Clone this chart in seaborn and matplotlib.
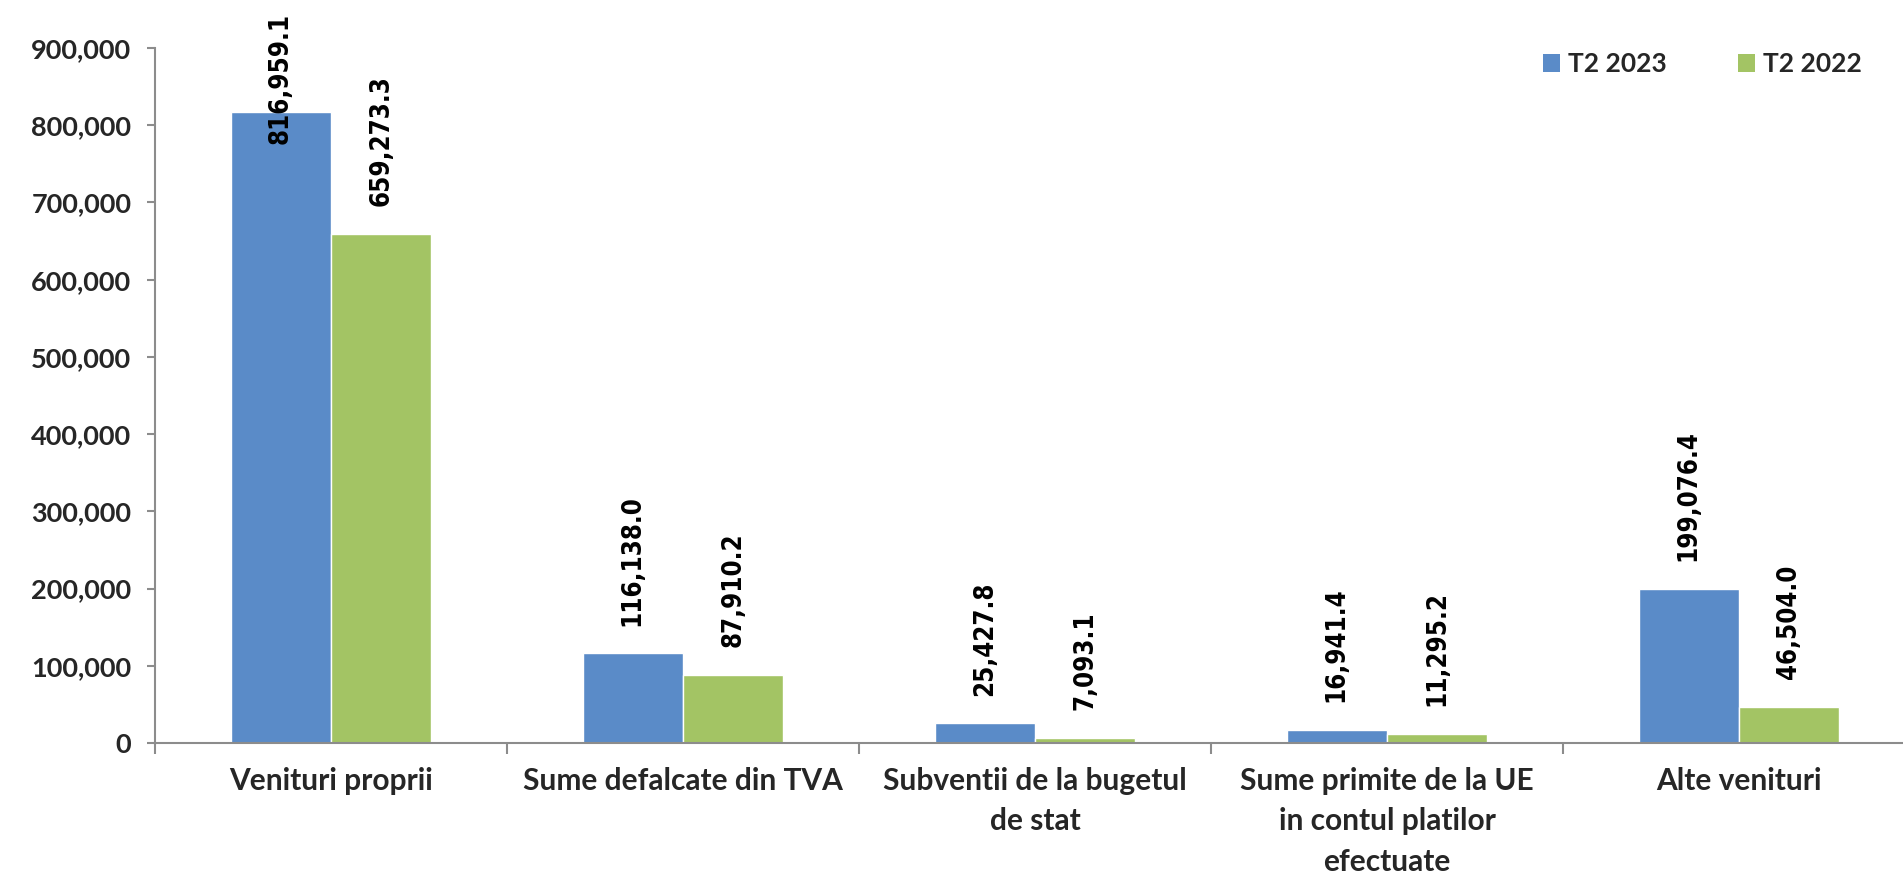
import matplotlib
matplotlib.use("Agg")
import matplotlib.pyplot as plt
import seaborn as sns
import pandas as pd
import numpy as np
from matplotlib.ticker import FuncFormatter, FixedLocator
from matplotlib.patches import Patch
from matplotlib import font_manager as fm

categories = ["Venituri proprii", "Sume defalcate din TVA",
              "Subventii de la bugetul\nde stat",
              "Sume primite de la UE\nin contul platilor\nefectuate",
              "Alte venituri"]
series_names = ["T2 2023", "T2 2022"]
values_2023 = [816959.1, 116138.0, 25427.8, 16941.4, 199076.4]
values_2022 = [659273.3, 87910.2, 7093.1, 11295.2, 46504.0]
y_ticks = [0, 100000, 200000, 300000, 400000, 500000, 600000, 700000, 800000, 900000]

colors = ["#5A8BC8", "#A3C464"]

df = pd.DataFrame({
    "cat": categories * 2,
    "serie": [series_names[0]] * 5 + [series_names[1]] * 5,
    "val": values_2023 + values_2022,
})

sns.set_theme(style="white")
plt.rcParams["font.family"] = ["Lato", "DejaVu Sans"]

# pick condensed DejaVu for data labels if available
cond = [f for f in fm.fontManager.ttflist
        if f.name == "DejaVu Sans" and "ondensed" in f.fname and "Bold" in f.fname
        and "Oblique" not in f.fname]
if cond:
    label_font = fm.FontProperties(fname=cond[0].fname, size=18.5)
else:
    label_font = fm.FontProperties(family="DejaVu Sans", weight="bold", size=17)

W, H, DPI = 1903, 873, 100
fig = plt.figure(figsize=(W / DPI, H / DPI), dpi=DPI)
ax = fig.add_axes([155 / W, 1 - 743 / H, (1915 - 155) / W, (743 - 48) / H])

sns.barplot(data=df, x="cat", y="val", hue="serie", order=categories,
            hue_order=series_names, palette=colors, width=0.57, gap=0,
            saturation=1, ax=ax, legend=False, errorbar=None)

ax.set_xlim(-0.5, 4.5)
ax.set_ylim(0, 900000)
ax.set_xlabel("")
ax.set_ylabel("")

ax.yaxis.set_major_locator(FixedLocator(y_ticks))
ax.yaxis.set_major_formatter(FuncFormatter(lambda v, p: f"{v:,.0f}"))

for s in ["top", "right"]:
    ax.spines[s].set_visible(False)
for s in ["left", "bottom"]:
    ax.spines[s].set_color("#8C8C8C")
    ax.spines[s].set_linewidth(1.5)

ax.tick_params(axis="y", which="major", left=True, length=6, width=1.5,
               color="#8C8C8C", pad=11, labelsize=19.5)
ax.set_xticks(range(5))
ax.set_xticklabels(categories, fontsize=21.5, fontweight="bold", linespacing=1.55,
                   va="top")
ax.set_xticks(np.arange(-0.5, 5.0, 1.0), minor=True)
ax.tick_params(axis="x", which="major", length=0, pad=17)
ax.tick_params(axis="x", which="minor", bottom=True, length=8, width=1.5,
               color="#8C8C8C", direction="out")
for lab in ax.get_yticklabels():
    lab.set_fontweight("bold")

# data labels
OFF = 20
annots = []
for i, cont in enumerate(ax.containers):
    for bar in cont:
        h = bar.get_height()
        t = ax.annotate(f"{h:,.1f}", xy=(bar.get_x() + bar.get_width() / 2, h),
                        xytext=(0, OFF), textcoords="offset points",
                        rotation=90, ha="center", va="bottom",
                        fontproperties=label_font,
                        color="black", annotation_clip=False)
        annots.append(t)

fig.canvas.draw()
renderer = fig.canvas.get_renderer()
for t in annots:
    bb = t.get_window_extent(renderer)
    limit = H - 13
    if bb.y1 > limit:
        shift = (bb.y1 - limit) * 72 / DPI
        t.xyann = (0, OFF - shift)

handles = [Patch(facecolor=c, edgecolor="none") for c in colors]
leg = fig.legend(handles, series_names, loc="upper left",
                 bbox_to_anchor=(1543 / W, 1 - 52 / H), ncol=2, frameon=False,
                 handlelength=0.65, handleheight=0.65, handletextpad=0.3,
                 columnspacing=2.7, borderaxespad=0, borderpad=0,
                 prop={"family": "Lato", "weight": "bold", "size": 19})

fig.savefig("out.png", dpi=DPI)
